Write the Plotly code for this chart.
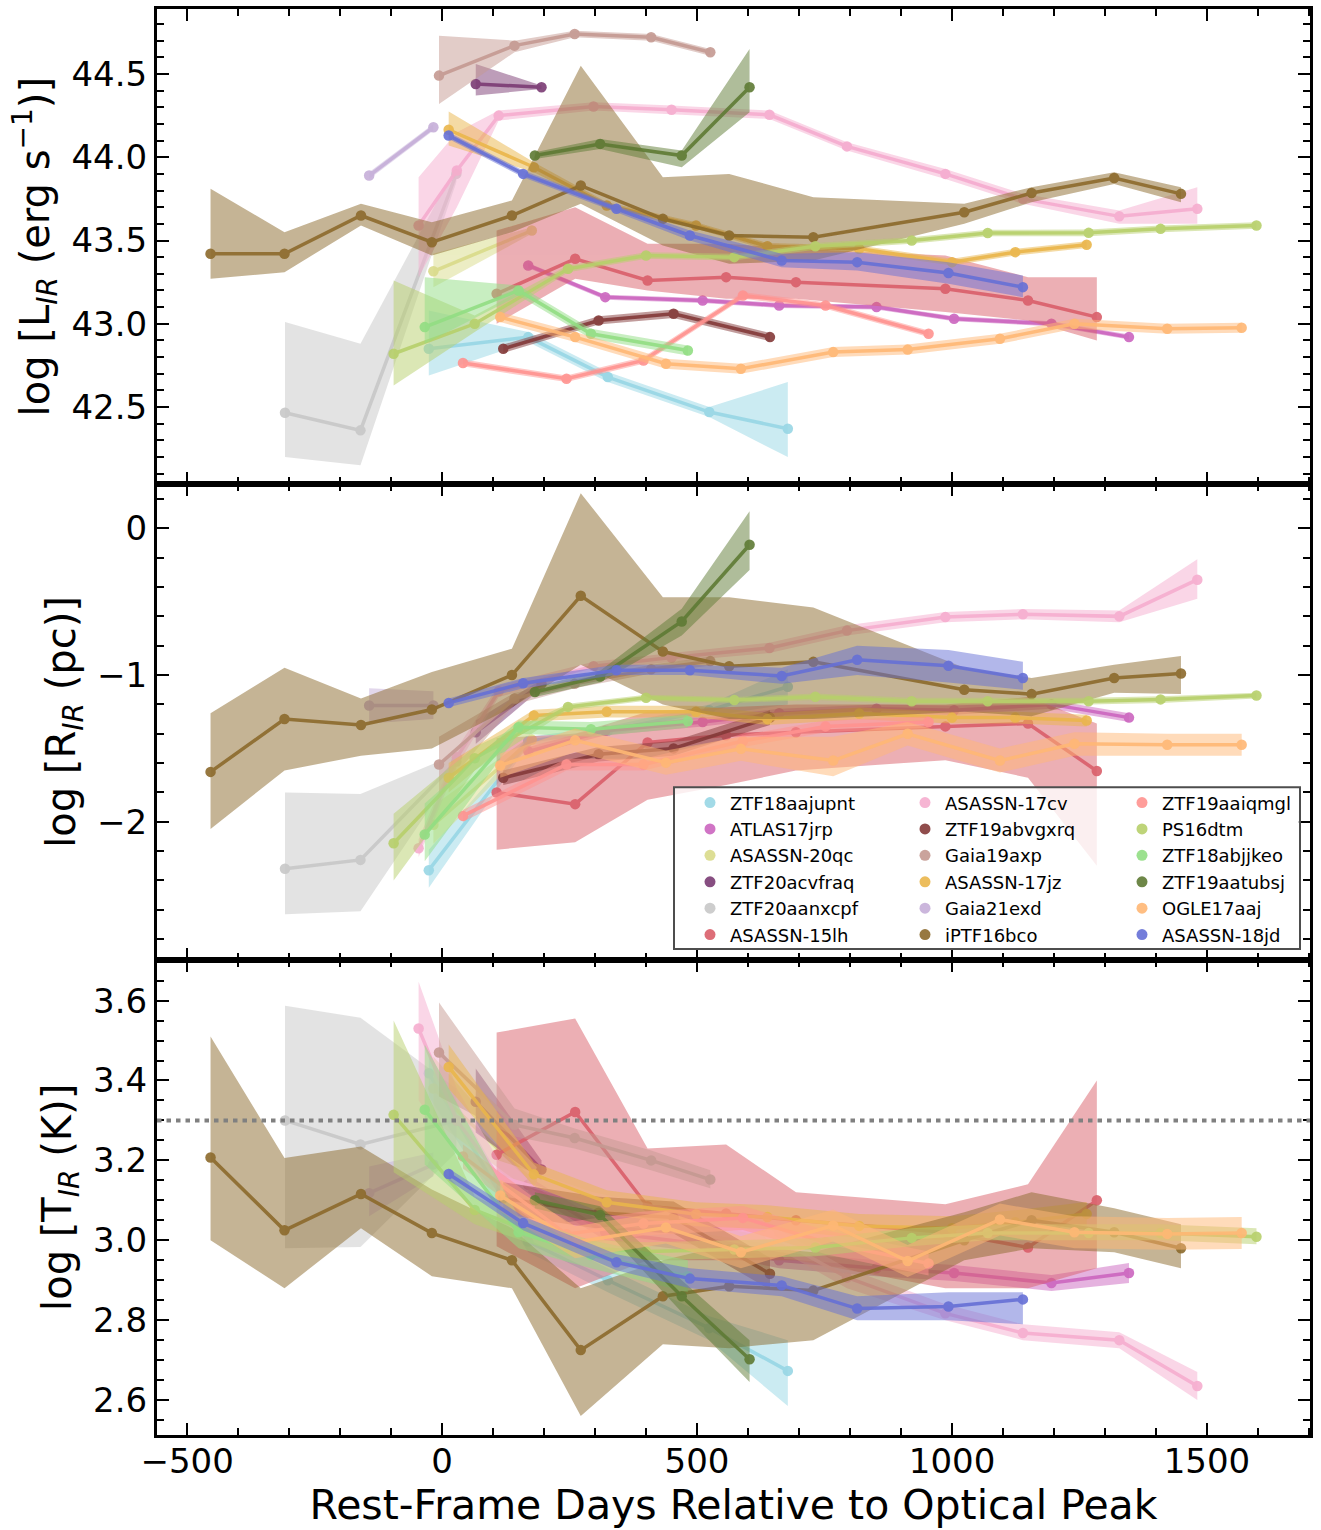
import plotly.graph_objects as go
from plotly.subplots import make_subplots

# ---------------- data ----------------
names = ["ZTF18aajupnt", "ATLAS17jrp", "ASASSN-20qc", "ZTF20acvfraq", "ZTF20aanxcpf", "ASASSN-15lh",
         "ASASSN-17cv", "ZTF19abvgxrq", "Gaia19axp", "ASASSN-17jz", "Gaia21exd", "iPTF16bco",
         "ZTF19aaiqmgl", "PS16dtm", "ZTF18abjjkeo", "ZTF19aatubsj", "OGLE17aaj", "ASASSN-18jd"]
colors = ["#98D7E5", "#CC66BF", "#DADB8A", "#7B3B74", "#C8C8C8", "#DA5F6A",
          "#F6ADCF", "#843A39", "#C59A92", "#EAB64C", "#C6AFD9", "#8C6A2C",
          "#FF9390", "#B7D06B", "#92DE83", "#5F7B35", "#FFB875", "#6670D6"]

# ZTF18aajupnt
days_ZTF18aajupnt = [-26, 169, 325, 524, 678]
L_ZTF18aajupnt = [42.85, 42.92, 42.68, 42.47, 42.37]
Llo_ZTF18aajupnt = [42.69, 42.89, 42.65, 42.44, 42.20]
Lhi_ZTF18aajupnt = [43.08, 42.95, 42.71, 42.50, 42.65]
R_ZTF18aajupnt = [-2.33, -1.45, -1.38, -1.24, -1.08]
Rlo_ZTF18aajupnt = [-2.45, -1.48, -1.41, -1.28, -1.20]
Rhi_ZTF18aajupnt = [-2.19, -1.42, -1.35, -1.20, -0.96]
T_ZTF18aajupnt = [3.418, 2.997, 2.90, 2.78, 2.673]
Tlo_ZTF18aajupnt = [3.36, 2.97, 2.87, 2.75, 2.585]
Thi_ZTF18aajupnt = [3.47, 3.03, 2.93, 2.81, 2.75]

# ATLAS17jrp
days_ATLAS17jrp = [169, 320, 511, 661, 852, 1004, 1195, 1347]
L_ATLAS17jrp = [43.35, 43.16, 43.14, 43.11, 43.10, 43.03, 43.00, 42.92]
Llo_ATLAS17jrp = [43.335, 43.145, 43.125, 43.095, 43.085, 43.015, 42.985, 42.905]
Lhi_ATLAS17jrp = [43.365, 43.175, 43.155, 43.125, 43.115, 43.045, 43.015, 42.935]
R_ATLAS17jrp = [-1.52, -1.38, -1.32, -1.26, -1.23, -1.24, -1.20, -1.29]
Rlo_ATLAS17jrp = [-1.55, -1.41, -1.35, -1.29, -1.26, -1.27, -1.23, -1.32]
Rhi_ATLAS17jrp = [-1.49, -1.35, -1.29, -1.23, -1.20, -1.21, -1.17, -1.26]
T_ATLAS17jrp = [3.139, 3.02, 2.99, 2.95, 2.93, 2.918, 2.893, 2.918]
Tlo_ATLAS17jrp = [3.12, 3.0, 2.97, 2.93, 2.91, 2.898, 2.873, 2.893]
Thi_ATLAS17jrp = [3.16, 3.04, 3.01, 2.97, 2.95, 2.938, 2.913, 2.943]

# ASASSN-20qc
days_ASASSN_20qc = [-17, 176]
L_ASASSN_20qc = [43.315, 43.56]
Llo_ASASSN_20qc = [43.22, 43.54]
Lhi_ASASSN_20qc = [43.42, 43.58]
R_ASASSN_20qc = [-2.02, -1.44]
Rlo_ASASSN_20qc = [-2.15, -1.47]
Rhi_ASASSN_20qc = [-1.89, -1.41]
T_ASASSN_20qc = [3.38, 3.15]
Tlo_ASASSN_20qc = [3.30, 3.12]
Thi_ASASSN_20qc = [3.46, 3.18]

# ZTF20acvfraq
days_ZTF20acvfraq = [66, 195]
L_ZTF20acvfraq = [44.44, 44.42]
Llo_ZTF20acvfraq = [44.37, 44.41]
Lhi_ZTF20acvfraq = [44.56, 44.43]
R_ZTF20acvfraq = [-1.39, -1.06]
Rlo_ZTF20acvfraq = [-1.47, -1.09]
Rhi_ZTF20acvfraq = [-1.31, -1.03]
T_ZTF20acvfraq = [3.347, 3.177]
Tlo_ZTF20acvfraq = [3.27, 3.15]
Thi_ZTF20acvfraq = [3.43, 3.20]

# ZTF20aanxcpf
days_ZTF20aanxcpf = [-308, -160, 28]
L_ZTF20aanxcpf = [42.466, 42.36, 43.90]
Llo_ZTF20aanxcpf = [42.20, 42.15, 43.85]
Lhi_ZTF20aanxcpf = [43.01, 42.88, 43.95]
R_ZTF20aanxcpf = [-2.32, -2.26, -1.59]
Rlo_ZTF20aanxcpf = [-2.63, -2.61, -1.64]
Rhi_ZTF20aanxcpf = [-1.80, -1.81, -1.54]
T_ZTF20aanxcpf = [3.30, 3.24, 3.30]
Tlo_ZTF20aanxcpf = [2.98, 2.983, 3.22]
Thi_ZTF20aanxcpf = [3.587, 3.557, 3.38]

# ASASSN-15lh
days_ASASSN_15lh = [107, 261, 403, 557, 694, 987, 1149, 1284]
L_ASASSN_15lh = [43.18, 43.39, 43.26, 43.28, 43.25, 43.21, 43.14, 43.04]
Llo_ASASSN_15lh = [43.0, 43.27, 43.20, 43.15, 43.15, 43.07, 43.02, 42.90]
Lhi_ASASSN_15lh = [43.56, 43.70, 43.48, 43.48, 43.45, 43.41, 43.28, 43.28]
R_ASASSN_15lh = [-1.80, -1.88, -1.46, -1.41, -1.39, -1.35, -1.33, -1.654]
Rlo_ASASSN_15lh = [-2.19, -2.14, -1.85, -1.75, -1.65, -1.58, -1.70, -2.30]
Rhi_ASASSN_15lh = [-1.43, -1.40, -1.25, -1.22, -1.20, -1.20, -1.15, -1.33]
T_ASASSN_15lh = [3.214, 3.321, 3.085, 3.067, 3.05, 3.02, 2.982, 3.10]
Tlo_ASASSN_15lh = [2.985, 2.88, 2.95, 2.95, 2.95, 2.88, 2.88, 2.93]
Thi_ASASSN_15lh = [3.52, 3.555, 3.23, 3.24, 3.12, 3.09, 3.14, 3.40]

# ASASSN-17cv
days_ASASSN_17cv = [-46, 29, 111, 297, 450, 642, 794, 987, 1139, 1328, 1481]
L_ASASSN_17cv = [43.59, 43.92, 44.25, 44.305, 44.285, 44.255, 44.065, 43.90, 43.75, 43.645, 43.69]
Llo_ASASSN_17cv = [43.28, 43.70, 44.22, 44.28, 44.26, 44.23, 44.04, 43.87, 43.72, 43.60, 43.60]
Lhi_ASASSN_17cv = [43.88, 44.15, 44.28, 44.33, 44.31, 44.28, 44.09, 43.93, 43.78, 43.68, 43.82]
R_ASASSN_17cv = [-2.18, -1.56, -1.11, -0.94, -0.88, -0.816, -0.697, -0.605, -0.586, -0.60, -0.35]
Rlo_ASASSN_17cv = [-2.24, -1.62, -1.15, -0.97, -0.91, -0.85, -0.73, -0.64, -0.62, -0.64, -0.48]
Rhi_ASASSN_17cv = [-2.12, -1.50, -1.07, -0.91, -0.85, -0.78, -0.66, -0.57, -0.55, -0.56, -0.21]
T_ASASSN_17cv = [3.53, 3.30, 3.16, 3.09, 3.054, 3.014, 2.907, 2.817, 2.768, 2.75, 2.635]
Tlo_ASASSN_17cv = [3.35, 3.22, 3.12, 3.06, 3.03, 2.99, 2.88, 2.80, 2.75, 2.73, 2.60]
Thi_ASASSN_17cv = [3.647, 3.38, 3.20, 3.12, 3.08, 3.04, 2.93, 2.84, 2.79, 2.77, 2.67]

# ZTF19abvgxrq
days_ZTF19abvgxrq = [120, 307, 454, 643]
L_ZTF19abvgxrq = [42.85, 43.02, 43.06, 42.92]
Llo_ZTF19abvgxrq = [42.825, 42.995, 43.035, 42.895]
Lhi_ZTF19abvgxrq = [42.875, 43.045, 43.085, 42.945]
R_ZTF19abvgxrq = [-1.70, -1.54, -1.50, -1.29]
Rlo_ZTF19abvgxrq = [-1.75, -1.59, -1.55, -1.34]
Rhi_ZTF19abvgxrq = [-1.65, -1.49, -1.45, -1.24]
T_ZTF19abvgxrq = [3.105, 3.069, 3.057, 2.916]
Tlo_ZTF19abvgxrq = [3.065, 3.029, 3.017, 2.876]
Thi_ZTF19abvgxrq = [3.145, 3.109, 3.097, 2.956]

# Gaia19axp
days_Gaia19axp = [-6, 142, 260, 410, 526]
L_Gaia19axp = [44.49, 44.67, 44.74, 44.72, 44.63]
Llo_Gaia19axp = [44.32, 44.63, 44.72, 44.70, 44.61]
Lhi_Gaia19axp = [44.73, 44.70, 44.76, 44.74, 44.65]
R_Gaia19axp = [-1.61, -1.16, -1.06, -0.96, -0.905]
Rlo_Gaia19axp = [-1.81, -1.20, -1.09, -0.99, -0.935]
Rhi_Gaia19axp = [-1.42, -1.12, -1.03, -0.93, -0.875]
T_Gaia19axp = [3.47, 3.289, 3.256, 3.20, 3.152]
Tlo_Gaia19axp = [3.36, 3.26, 3.23, 3.175, 3.13]
Thi_Gaia19axp = [3.595, 3.33, 3.28, 3.225, 3.175]

# ASASSN-17jz
days_ASASSN_17jz = [13, 180, 323, 498, 638, 818, 1000, 1124, 1264]
L_ASASSN_17jz = [44.165, 43.94, 43.71, 43.59, 43.465, 43.45, 43.37, 43.43, 43.475]
Llo_ASASSN_17jz = [44.07, 43.91, 43.69, 43.57, 43.445, 43.43, 43.35, 43.41, 43.455]
Lhi_ASASSN_17jz = [44.275, 43.97, 43.73, 43.61, 43.485, 43.47, 43.39, 43.45, 43.495]
R_ASASSN_17jz = [-1.70, -1.276, -1.25, -1.25, -1.30, -1.262, -1.29, -1.29, -1.31]
Rlo_ASASSN_17jz = [-1.80, -1.316, -1.29, -1.29, -1.34, -1.302, -1.33, -1.33, -1.35]
Rhi_ASASSN_17jz = [-1.60, -1.236, -1.21, -1.21, -1.26, -1.222, -1.25, -1.25, -1.27]
T_ASASSN_17jz = [3.434, 3.165, 3.095, 3.065, 3.058, 3.036, 3.03, 3.045, 3.066]
Tlo_ASASSN_17jz = [3.38, 3.135, 3.065, 3.035, 3.028, 3.006, 3.0, 3.015, 3.036]
Thi_ASASSN_17jz = [3.49, 3.195, 3.125, 3.095, 3.088, 3.066, 3.06, 3.075, 3.096]

# Gaia21exd
days_Gaia21exd = [-143, -17]
L_Gaia21exd = [43.89, 44.18]
Llo_Gaia21exd = [43.87, 44.16]
Lhi_Gaia21exd = [43.91, 44.20]
R_Gaia21exd = [-1.207, -1.207]
Rlo_Gaia21exd = [-1.33, -1.30]
Rhi_Gaia21exd = [-1.09, -1.11]
T_Gaia21exd = [3.118, 3.19]
Tlo_Gaia21exd = [3.06, 3.16]
Thi_Gaia21exd = [3.185, 3.22]

# iPTF16bco
days_iPTF16bco = [-454, -309, -159, -20, 137, 272, 433, 563, 728, 1024, 1156, 1318, 1449]
L_iPTF16bco = [43.42, 43.42, 43.65, 43.49, 43.65, 43.83, 43.63, 43.53, 43.52, 43.67, 43.785, 43.875, 43.78]
Llo_iPTF16bco = [43.27, 43.31, 43.59, 43.41, 43.55, 43.72, 43.47, 43.36, 43.38, 43.60, 43.73, 43.84, 43.73]
Lhi_iPTF16bco = [43.81, 43.55, 43.72, 43.61, 43.74, 44.55, 43.88, 43.90, 43.76, 43.72, 43.82, 43.91, 43.82]
R_iPTF16bco = [-1.66, -1.30, -1.34, -1.235, -1.00, -0.46, -0.84, -0.94, -0.91, -1.10, -1.13, -1.02, -0.99]
Rlo_iPTF16bco = [-2.05, -1.65, -1.55, -1.50, -1.22, -0.93, -1.20, -1.30, -1.30, -1.25, -1.28, -1.12, -1.13]
Rhi_iPTF16bco = [-1.26, -0.95, -1.16, -0.98, -0.82, 0.24, -0.47, -0.47, -0.54, -0.95, -1.02, -0.93, -0.87]
T_iPTF16bco = [3.207, 3.025, 3.116, 3.018, 2.95, 2.725, 2.86, 2.885, 2.874, 3.0, 3.05, 3.02, 2.98]
Tlo_iPTF16bco = [3.0, 2.88, 3.03, 2.91, 2.88, 2.56, 2.74, 2.73, 2.75, 2.95, 2.98, 2.97, 2.93]
Thi_iPTF16bco = [3.51, 3.206, 3.235, 3.127, 3.03, 2.88, 2.95, 2.99, 2.97, 3.07, 3.12, 3.08, 3.04]

# ZTF19aaiqmgl
days_ZTF19aaiqmgl = [41, 244, 395, 590, 752, 954]
L_ZTF19aaiqmgl = [42.765, 42.67, 42.78, 43.17, 43.11, 42.94]
Llo_ZTF19aaiqmgl = [42.745, 42.65, 42.76, 43.15, 43.09, 42.92]
Lhi_ZTF19aaiqmgl = [42.785, 42.69, 42.80, 43.19, 43.13, 42.96]
R_ZTF19aaiqmgl = [-1.96, -1.61, -1.61, -1.45, -1.35, -1.32]
Rlo_ZTF19aaiqmgl = [-2.0, -1.65, -1.65, -1.49, -1.39, -1.36]
Rhi_ZTF19aaiqmgl = [-1.92, -1.57, -1.57, -1.41, -1.31, -1.28]
T_ZTF19aaiqmgl = [3.21, 3.015, 3.042, 3.056, 2.995, 2.942]
Tlo_ZTF19aaiqmgl = [3.18, 2.985, 3.012, 3.026, 2.965, 2.912]
Thi_ZTF19aaiqmgl = [3.24, 3.045, 3.072, 3.086, 3.025, 2.972]

# PS16dtm
days_PS16dtm = [-95, 64, 247, 400, 573, 732, 921, 1070, 1268, 1409, 1597]
L_PS16dtm = [42.82, 43.0, 43.33, 43.41, 43.40, 43.465, 43.50, 43.545, 43.546, 43.57, 43.59]
Llo_PS16dtm = [42.63, 42.95, 43.31, 43.39, 43.38, 43.445, 43.48, 43.525, 43.526, 43.55, 43.57]
Lhi_PS16dtm = [43.26, 43.05, 43.35, 43.43, 43.42, 43.485, 43.52, 43.565, 43.566, 43.59, 43.61]
R_PS16dtm = [-2.147, -1.567, -1.217, -1.155, -1.17, -1.148, -1.178, -1.178, -1.178, -1.166, -1.139]
Rlo_PS16dtm = [-2.40, -1.65, -1.24, -1.175, -1.19, -1.17, -1.20, -1.20, -1.20, -1.19, -1.16]
Rhi_PS16dtm = [-1.945, -1.49, -1.195, -1.135, -1.15, -1.125, -1.155, -1.155, -1.155, -1.145, -1.12]
T_PS16dtm = [3.314, 3.076, 2.983, 2.972, 2.977, 2.982, 3.006, 3.018, 3.018, 3.018, 3.009]
Tlo_PS16dtm = [3.17, 3.04, 2.96, 2.95, 2.955, 2.96, 2.985, 3.0, 3.0, 3.0, 2.99]
Thi_PS16dtm = [3.55, 3.11, 3.005, 2.995, 3.0, 3.005, 3.03, 3.04, 3.04, 3.04, 3.03]

# ZTF18abjjkeo
days_ZTF18abjjkeo = [-34, 150, 292, 482]
L_ZTF18abjjkeo = [42.98, 43.20, 42.94, 42.84]
Llo_ZTF18abjjkeo = [42.88, 43.17, 42.91, 42.81]
Lhi_ZTF18abjjkeo = [43.28, 43.23, 42.97, 42.87]
R_ZTF18abjjkeo = [-2.087, -1.356, -1.37, -1.315]
Rlo_ZTF18abjjkeo = [-2.27, -1.40, -1.42, -1.36]
Rhi_ZTF18abjjkeo = [-1.876, -1.31, -1.32, -1.27]
T_ZTF18abjjkeo = [3.327, 3.02, 2.963, 2.91]
Tlo_ZTF18abjjkeo = [3.19, 2.98, 2.93, 2.87]
Thi_ZTF18abjjkeo = [3.49, 3.06, 3.0, 2.95]

# ZTF19aatubsj
days_ZTF19aatubsj = [182, 310, 470, 603]
L_ZTF19aatubsj = [44.01, 44.08, 44.01, 44.42]
Llo_ZTF19aatubsj = [43.99, 44.05, 43.94, 44.27]
Lhi_ZTF19aatubsj = [44.03, 44.11, 44.04, 44.65]
R_ZTF19aatubsj = [-1.116, -1.01, -0.635, -0.112]
Rlo_ZTF19aatubsj = [-1.15, -1.05, -0.731, -0.284]
Rhi_ZTF19aatubsj = [-1.08, -0.97, -0.548, 0.117]
T_ZTF19aatubsj = [3.10, 3.063, 2.86, 2.702]
Tlo_ZTF19aatubsj = [3.08, 3.04, 2.82, 2.645]
Thi_ZTF19aatubsj = [3.12, 3.085, 2.90, 2.75]

# OGLE17aaj
days_OGLE17aaj = [114, 261, 439, 586, 767, 913, 1094, 1240, 1422, 1568]
L_OGLE17aaj = [43.04, 42.92, 42.76, 42.73, 42.83, 42.845, 42.91, 43.0, 42.97, 42.976]
Llo_OGLE17aaj = [43.01, 42.89, 42.73, 42.70, 42.80, 42.815, 42.88, 42.97, 42.94, 42.946]
Lhi_OGLE17aaj = [43.07, 42.95, 42.79, 42.76, 42.86, 42.875, 42.94, 43.03, 43.0, 43.006]
R_OGLE17aaj = [-1.617, -1.445, -1.597, -1.503, -1.583, -1.40, -1.583, -1.468, -1.475, -1.475]
Rlo_OGLE17aaj = [-1.70, -1.525, -1.68, -1.585, -1.69, -1.48, -1.665, -1.55, -1.55, -1.55]
Rhi_OGLE17aaj = [-1.535, -1.365, -1.515, -1.42, -1.42, -1.32, -1.50, -1.39, -1.40, -1.40]
T_OGLE17aaj = [3.112, 2.995, 3.032, 2.97, 3.037, 2.948, 3.052, 3.02, 3.016, 3.018]
Tlo_OGLE17aaj = [3.072, 2.955, 2.992, 2.93, 2.997, 2.908, 3.012, 2.98, 2.976, 2.978]
Thi_OGLE17aaj = [3.152, 3.035, 3.072, 3.01, 3.077, 2.988, 3.092, 3.06, 3.056, 3.058]

# ASASSN-18jd
days_ASASSN_18jd = [13, 159, 342, 486, 666, 814, 993, 1139]
L_ASASSN_18jd = [44.13, 43.90, 43.69, 43.53, 43.38, 43.37, 43.305, 43.22]
Llo_ASASSN_18jd = [44.11, 43.88, 43.67, 43.50, 43.34, 43.32, 43.24, 43.16]
Lhi_ASASSN_18jd = [44.15, 43.92, 43.71, 43.56, 43.42, 43.43, 43.37, 43.29]
R_ASASSN_18jd = [-1.19, -1.056, -0.967, -0.967, -1.006, -0.896, -0.937, -1.02]
Rlo_ASASSN_18jd = [-1.22, -1.09, -1.00, -1.00, -1.06, -1.00, -1.05, -1.10]
Rhi_ASASSN_18jd = [-1.16, -1.02, -0.93, -0.93, -0.95, -0.80, -0.83, -0.91]
T_ASASSN_18jd = [3.166, 3.043, 2.945, 2.904, 2.887, 2.829, 2.834, 2.852]
Tlo_ASASSN_18jd = [3.15, 3.025, 2.925, 2.88, 2.86, 2.80, 2.80, 2.79]
Thi_ASASSN_18jd = [3.18, 3.06, 2.965, 2.93, 2.91, 2.86, 2.87, 2.87]

T_limit = 3.3  # dotted reference line in bottom panel

xticks = [-500, 0, 500, 1000, 1500]
yticks_L = [42.5, 43.0, 43.5, 44.0, 44.5]
yticks_R = [-2, -1, 0]
yticks_T = [2.6, 2.8, 3.0, 3.2, 3.4, 3.6]

series = [
    (days_ZTF18aajupnt, L_ZTF18aajupnt, Llo_ZTF18aajupnt, Lhi_ZTF18aajupnt, R_ZTF18aajupnt, Rlo_ZTF18aajupnt, Rhi_ZTF18aajupnt, T_ZTF18aajupnt, Tlo_ZTF18aajupnt, Thi_ZTF18aajupnt),
    (days_ATLAS17jrp, L_ATLAS17jrp, Llo_ATLAS17jrp, Lhi_ATLAS17jrp, R_ATLAS17jrp, Rlo_ATLAS17jrp, Rhi_ATLAS17jrp, T_ATLAS17jrp, Tlo_ATLAS17jrp, Thi_ATLAS17jrp),
    (days_ASASSN_20qc, L_ASASSN_20qc, Llo_ASASSN_20qc, Lhi_ASASSN_20qc, R_ASASSN_20qc, Rlo_ASASSN_20qc, Rhi_ASASSN_20qc, T_ASASSN_20qc, Tlo_ASASSN_20qc, Thi_ASASSN_20qc),
    (days_ZTF20acvfraq, L_ZTF20acvfraq, Llo_ZTF20acvfraq, Lhi_ZTF20acvfraq, R_ZTF20acvfraq, Rlo_ZTF20acvfraq, Rhi_ZTF20acvfraq, T_ZTF20acvfraq, Tlo_ZTF20acvfraq, Thi_ZTF20acvfraq),
    (days_ZTF20aanxcpf, L_ZTF20aanxcpf, Llo_ZTF20aanxcpf, Lhi_ZTF20aanxcpf, R_ZTF20aanxcpf, Rlo_ZTF20aanxcpf, Rhi_ZTF20aanxcpf, T_ZTF20aanxcpf, Tlo_ZTF20aanxcpf, Thi_ZTF20aanxcpf),
    (days_ASASSN_15lh, L_ASASSN_15lh, Llo_ASASSN_15lh, Lhi_ASASSN_15lh, R_ASASSN_15lh, Rlo_ASASSN_15lh, Rhi_ASASSN_15lh, T_ASASSN_15lh, Tlo_ASASSN_15lh, Thi_ASASSN_15lh),
    (days_ASASSN_17cv, L_ASASSN_17cv, Llo_ASASSN_17cv, Lhi_ASASSN_17cv, R_ASASSN_17cv, Rlo_ASASSN_17cv, Rhi_ASASSN_17cv, T_ASASSN_17cv, Tlo_ASASSN_17cv, Thi_ASASSN_17cv),
    (days_ZTF19abvgxrq, L_ZTF19abvgxrq, Llo_ZTF19abvgxrq, Lhi_ZTF19abvgxrq, R_ZTF19abvgxrq, Rlo_ZTF19abvgxrq, Rhi_ZTF19abvgxrq, T_ZTF19abvgxrq, Tlo_ZTF19abvgxrq, Thi_ZTF19abvgxrq),
    (days_Gaia19axp, L_Gaia19axp, Llo_Gaia19axp, Lhi_Gaia19axp, R_Gaia19axp, Rlo_Gaia19axp, Rhi_Gaia19axp, T_Gaia19axp, Tlo_Gaia19axp, Thi_Gaia19axp),
    (days_ASASSN_17jz, L_ASASSN_17jz, Llo_ASASSN_17jz, Lhi_ASASSN_17jz, R_ASASSN_17jz, Rlo_ASASSN_17jz, Rhi_ASASSN_17jz, T_ASASSN_17jz, Tlo_ASASSN_17jz, Thi_ASASSN_17jz),
    (days_Gaia21exd, L_Gaia21exd, Llo_Gaia21exd, Lhi_Gaia21exd, R_Gaia21exd, Rlo_Gaia21exd, Rhi_Gaia21exd, T_Gaia21exd, Tlo_Gaia21exd, Thi_Gaia21exd),
    (days_iPTF16bco, L_iPTF16bco, Llo_iPTF16bco, Lhi_iPTF16bco, R_iPTF16bco, Rlo_iPTF16bco, Rhi_iPTF16bco, T_iPTF16bco, Tlo_iPTF16bco, Thi_iPTF16bco),
    (days_ZTF19aaiqmgl, L_ZTF19aaiqmgl, Llo_ZTF19aaiqmgl, Lhi_ZTF19aaiqmgl, R_ZTF19aaiqmgl, Rlo_ZTF19aaiqmgl, Rhi_ZTF19aaiqmgl, T_ZTF19aaiqmgl, Tlo_ZTF19aaiqmgl, Thi_ZTF19aaiqmgl),
    (days_PS16dtm, L_PS16dtm, Llo_PS16dtm, Lhi_PS16dtm, R_PS16dtm, Rlo_PS16dtm, Rhi_PS16dtm, T_PS16dtm, Tlo_PS16dtm, Thi_PS16dtm),
    (days_ZTF18abjjkeo, L_ZTF18abjjkeo, Llo_ZTF18abjjkeo, Lhi_ZTF18abjjkeo, R_ZTF18abjjkeo, Rlo_ZTF18abjjkeo, Rhi_ZTF18abjjkeo, T_ZTF18abjjkeo, Tlo_ZTF18abjjkeo, Thi_ZTF18abjjkeo),
    (days_ZTF19aatubsj, L_ZTF19aatubsj, Llo_ZTF19aatubsj, Lhi_ZTF19aatubsj, R_ZTF19aatubsj, Rlo_ZTF19aatubsj, Rhi_ZTF19aatubsj, T_ZTF19aatubsj, Tlo_ZTF19aatubsj, Thi_ZTF19aatubsj),
    (days_OGLE17aaj, L_OGLE17aaj, Llo_OGLE17aaj, Lhi_OGLE17aaj, R_OGLE17aaj, Rlo_OGLE17aaj, Rhi_OGLE17aaj, T_OGLE17aaj, Tlo_OGLE17aaj, Thi_OGLE17aaj),
    (days_ASASSN_18jd, L_ASASSN_18jd, Llo_ASASSN_18jd, Lhi_ASASSN_18jd, R_ASASSN_18jd, Rlo_ASASSN_18jd, Rhi_ASASSN_18jd, T_ASASSN_18jd, Tlo_ASASSN_18jd, Thi_ASASSN_18jd),
]

# ---------------- figure ----------------
FONT = "DejaVu Sans"
fig = make_subplots(rows=3, cols=1, shared_xaxes=True, vertical_spacing=0)


def rgba(h, a):
    h = h.lstrip("#")
    return "rgba(%d,%d,%d,%.3f)" % (int(h[0:2], 16), int(h[2:4], 16), int(h[4:6], 16), a)


for name, col, s in zip(names, colors, series):
    d = s[0]
    panels = [(s[1], s[2], s[3]), (s[4], s[5], s[6]), (s[7], s[8], s[9])]
    for row, (v, lo, hi) in enumerate(panels, start=1):
        fig.add_trace(go.Scatter(
            x=list(d) + list(d)[::-1], y=list(hi) + list(lo)[::-1],
            fill="toself", fillcolor=rgba(col, 0.5), line=dict(width=0),
            mode="lines", hoverinfo="skip", showlegend=False), row=row, col=1)
        fig.add_trace(go.Scatter(
            x=d, y=v, mode="lines+markers", name=name, opacity=0.9,
            line=dict(color=col, width=3.5), marker=dict(color=col, size=10.5),
            showlegend=False), row=row, col=1)

# legend-only dot entries, three column legends (column-major order)
legend_ids = ["legend", "legend2", "legend3"]
for i, (name, col) in enumerate(zip(names, colors)):
    fig.add_trace(go.Scatter(
        x=[None], y=[None], mode="markers", name=name, opacity=0.9,
        marker=dict(color=col, size=11), legend=legend_ids[i // 6], showlegend=True),
        row=1, col=1)

# dotted reference line at log T = 3.3
fig.add_shape(type="line", xref="x3 domain", yref="y3", x0=0, x1=1, y0=T_limit, y1=T_limit,
              line=dict(color="#808080", width=4, dash="4.5px,5px"), layer="above")

# legend frame
W, H = 1321, 1530
ML, MR, MT, MB = 157, 11, 6, 95
PW, PH = W - ML - MR, H - MT - MB


def px2x(px):
    return (px - ML) / PW


def py2y(py):
    return (H - MB - py) / PH


fig.add_shape(type="rect", xref="paper", yref="paper",
              x0=px2x(674), x1=px2x(1300), y0=py2y(948), y1=py2y(786),
              line=dict(color="#4d4d4d", width=2), fillcolor="rgba(255,255,255,0.8)", layer="above")

leg_common = dict(bgcolor="rgba(0,0,0,0)", borderwidth=0, font=dict(family=FONT, size=18, color="black"),
                  xanchor="left", yanchor="top", itemsizing="trace", tracegroupgap=0)
fig.update_layout(
    legend=dict(x=px2x(690), y=py2y(783), **leg_common),
    legend2=dict(x=px2x(905), y=py2y(783), **leg_common),
    legend3=dict(x=px2x(1122), y=py2y(783), **leg_common),
)

axis_common = dict(showline=True, linewidth=3, linecolor="black", mirror="allticks",
                   ticks="inside", ticklen=12, tickwidth=2, tickcolor="black",
                   showgrid=False, zeroline=False,
                   tickfont=dict(family=FONT, size=34, color="black"))
minor_common = dict(ticks="inside", ticklen=7, tickwidth=1.5, tickcolor="black", showgrid=False)

for r in (1, 2, 3):
    fig.update_xaxes(range=[-559, 1702], tickvals=xticks, minor=dict(dtick=100, tick0=0, **minor_common),
                     ticklabelstandoff=-6, row=r, col=1, **axis_common)
fig.update_xaxes(title=dict(text="Rest-Frame Days Relative to Optical Peak",
                            font=dict(family=FONT, size=41, color="black"), standoff=2), row=3, col=1)

YT = 40
fig.update_yaxes(range=[42.036, 44.89], tickvals=yticks_L, tickformat=".1f",
                 minor=dict(dtick=0.1, tick0=42.0, **minor_common), ticklabelstandoff=0,
                 title=dict(text="log [L<sub><i>IR</i></sub> (erg s<sup>−1</sup>)]",
                            font=dict(family=FONT, size=YT, color="black"), standoff=10),
                 row=1, col=1, **axis_common)
fig.update_yaxes(range=[-2.94, 0.30], tickvals=yticks_R,
                 minor=dict(dtick=0.2, tick0=0, **minor_common), ticklabelstandoff=0,
                 title=dict(text="log [R<sub><i>IR</i></sub> (pc)]",
                            font=dict(family=FONT, size=YT, color="black"), standoff=10),
                 row=2, col=1, **axis_common)
fig.update_yaxes(range=[2.5125, 3.7025], tickvals=yticks_T, tickformat=".1f",
                 minor=dict(dtick=0.05, tick0=2.5, **minor_common), ticklabelstandoff=0,
                 title=dict(text="log [T<sub><i>IR</i></sub> (K)]",
                            font=dict(family=FONT, size=YT, color="black"), standoff=10),
                 row=3, col=1, **axis_common)

fig.update_layout(width=W, height=H, margin=dict(l=ML, r=MR, t=MT, b=MB),
                  plot_bgcolor="white", paper_bgcolor="white",
                  font=dict(family=FONT, color="black"))

fig.write_html("out.html")
